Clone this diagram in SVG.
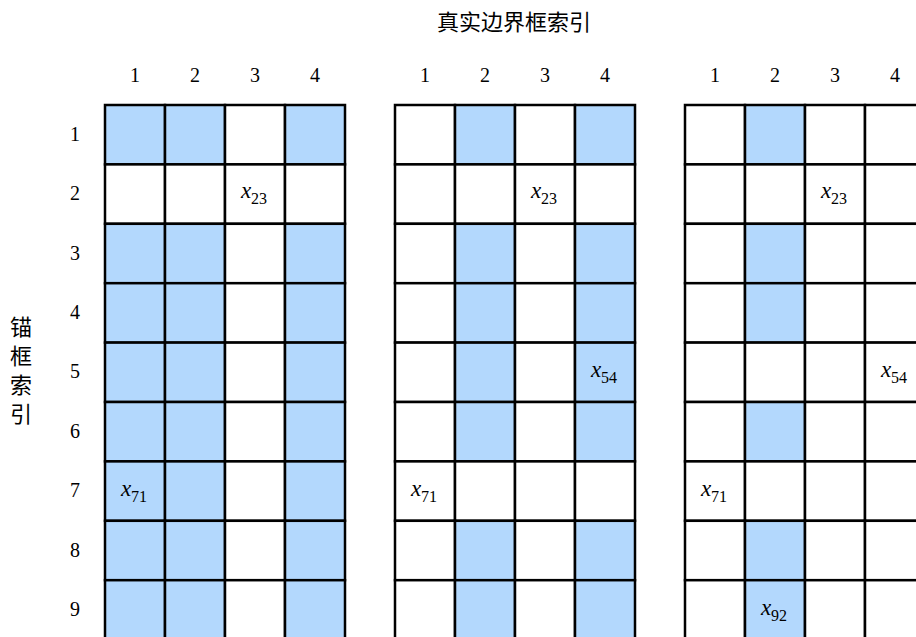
<svg xmlns="http://www.w3.org/2000/svg" width="916" height="637" viewBox="0 0 916 637">
<style>
.c{fill:#fff;stroke:#000;stroke-width:2.5}
.b{fill:#b3d8fd;stroke:#000;stroke-width:2.5}
.n{font-family:"Liberation Serif",serif;font-size:20px;text-anchor:middle;fill:#000}
.cjk{font-family:"Noto Sans CJK SC",sans-serif;font-size:22px;fill:#000}
.v{font-family:"Liberation Serif",serif;font-size:23px;text-anchor:middle;fill:#000}
.s{font-size:16px;font-style:normal}
</style>
<rect width="916" height="637" fill="#fff"/>
<text class="cjk" x="514" y="30" font-size="23" text-anchor="middle">真实边界框索引</text>
<g id="ylabel" class="cjk" text-anchor="middle">
<text x="21" y="335">锚</text>
<text x="21" y="364">框</text>
<text x="21" y="393">索</text>
<text x="21" y="422">引</text>
</g>
<g id="rowlabels" class="n">
<text x="75" y="141">1</text><text x="75" y="200">2</text><text x="75" y="260">3</text><text x="75" y="319">4</text><text x="75" y="378">5</text><text x="75" y="438">6</text><text x="75" y="497">7</text><text x="75" y="557">8</text><text x="75" y="616">9</text>
</g>
<g id="collabels" class="n">
<text x="135" y="82">1</text><text x="195" y="82">2</text><text x="255" y="82">3</text><text x="315" y="82">4</text>
<text x="425" y="82">1</text><text x="485" y="82">2</text><text x="545" y="82">3</text><text x="605" y="82">4</text>
<text x="715" y="82">1</text><text x="775" y="82">2</text><text x="835" y="82">3</text><text x="895" y="82">4</text>
</g>
<g id="matrix1">
<rect class="b" x="105" y="105" width="60" height="59.4"/><rect class="b" x="165" y="105" width="60" height="59.4"/><rect class="c" x="225" y="105" width="60" height="59.4"/><rect class="b" x="285" y="105" width="60" height="59.4"/>
<rect class="c" x="105" y="164.4" width="60" height="59.4"/><rect class="c" x="165" y="164.4" width="60" height="59.4"/><rect class="c" x="225" y="164.4" width="60" height="59.4"/><rect class="c" x="285" y="164.4" width="60" height="59.4"/>
<rect class="b" x="105" y="223.8" width="60" height="59.4"/><rect class="b" x="165" y="223.8" width="60" height="59.4"/><rect class="c" x="225" y="223.8" width="60" height="59.4"/><rect class="b" x="285" y="223.8" width="60" height="59.4"/>
<rect class="b" x="105" y="283.2" width="60" height="59.4"/><rect class="b" x="165" y="283.2" width="60" height="59.4"/><rect class="c" x="225" y="283.2" width="60" height="59.4"/><rect class="b" x="285" y="283.2" width="60" height="59.4"/>
<rect class="b" x="105" y="342.6" width="60" height="59.4"/><rect class="b" x="165" y="342.6" width="60" height="59.4"/><rect class="c" x="225" y="342.6" width="60" height="59.4"/><rect class="b" x="285" y="342.6" width="60" height="59.4"/>
<rect class="b" x="105" y="402" width="60" height="59.4"/><rect class="b" x="165" y="402" width="60" height="59.4"/><rect class="c" x="225" y="402" width="60" height="59.4"/><rect class="b" x="285" y="402" width="60" height="59.4"/>
<rect class="b" x="105" y="461.4" width="60" height="59.4"/><rect class="b" x="165" y="461.4" width="60" height="59.4"/><rect class="c" x="225" y="461.4" width="60" height="59.4"/><rect class="b" x="285" y="461.4" width="60" height="59.4"/>
<rect class="b" x="105" y="520.8" width="60" height="59.4"/><rect class="b" x="165" y="520.8" width="60" height="59.4"/><rect class="c" x="225" y="520.8" width="60" height="59.4"/><rect class="b" x="285" y="520.8" width="60" height="59.4"/>
<rect class="b" x="105" y="580.2" width="60" height="59.4"/><rect class="b" x="165" y="580.2" width="60" height="59.4"/><rect class="c" x="225" y="580.2" width="60" height="59.4"/><rect class="b" x="285" y="580.2" width="60" height="59.4"/>
<text class="v" x="254" y="198"><tspan font-style="italic">x</tspan><tspan class="s" dy="6">23</tspan></text>
<text class="v" x="134" y="496"><tspan font-style="italic">x</tspan><tspan class="s" dy="6">71</tspan></text>
</g>
<g id="matrix2">
<rect class="c" x="395" y="105" width="60" height="59.4"/><rect class="b" x="455" y="105" width="60" height="59.4"/><rect class="c" x="515" y="105" width="60" height="59.4"/><rect class="b" x="575" y="105" width="60" height="59.4"/>
<rect class="c" x="395" y="164.4" width="60" height="59.4"/><rect class="c" x="455" y="164.4" width="60" height="59.4"/><rect class="c" x="515" y="164.4" width="60" height="59.4"/><rect class="c" x="575" y="164.4" width="60" height="59.4"/>
<rect class="c" x="395" y="223.8" width="60" height="59.4"/><rect class="b" x="455" y="223.8" width="60" height="59.4"/><rect class="c" x="515" y="223.8" width="60" height="59.4"/><rect class="b" x="575" y="223.8" width="60" height="59.4"/>
<rect class="c" x="395" y="283.2" width="60" height="59.4"/><rect class="b" x="455" y="283.2" width="60" height="59.4"/><rect class="c" x="515" y="283.2" width="60" height="59.4"/><rect class="b" x="575" y="283.2" width="60" height="59.4"/>
<rect class="c" x="395" y="342.6" width="60" height="59.4"/><rect class="b" x="455" y="342.6" width="60" height="59.4"/><rect class="c" x="515" y="342.6" width="60" height="59.4"/><rect class="b" x="575" y="342.6" width="60" height="59.4"/>
<rect class="c" x="395" y="402" width="60" height="59.4"/><rect class="b" x="455" y="402" width="60" height="59.4"/><rect class="c" x="515" y="402" width="60" height="59.4"/><rect class="b" x="575" y="402" width="60" height="59.4"/>
<rect class="c" x="395" y="461.4" width="60" height="59.4"/><rect class="c" x="455" y="461.4" width="60" height="59.4"/><rect class="c" x="515" y="461.4" width="60" height="59.4"/><rect class="c" x="575" y="461.4" width="60" height="59.4"/>
<rect class="c" x="395" y="520.8" width="60" height="59.4"/><rect class="b" x="455" y="520.8" width="60" height="59.4"/><rect class="c" x="515" y="520.8" width="60" height="59.4"/><rect class="b" x="575" y="520.8" width="60" height="59.4"/>
<rect class="c" x="395" y="580.2" width="60" height="59.4"/><rect class="b" x="455" y="580.2" width="60" height="59.4"/><rect class="c" x="515" y="580.2" width="60" height="59.4"/><rect class="b" x="575" y="580.2" width="60" height="59.4"/>
<text class="v" x="544" y="198"><tspan font-style="italic">x</tspan><tspan class="s" dy="6">23</tspan></text>
<text class="v" x="604" y="377"><tspan font-style="italic">x</tspan><tspan class="s" dy="6">54</tspan></text>
<text class="v" x="424" y="496"><tspan font-style="italic">x</tspan><tspan class="s" dy="6">71</tspan></text>
</g>
<g id="matrix3">
<rect class="c" x="685" y="105" width="60" height="59.4"/><rect class="b" x="745" y="105" width="60" height="59.4"/><rect class="c" x="805" y="105" width="60" height="59.4"/><rect class="c" x="865" y="105" width="60" height="59.4"/>
<rect class="c" x="685" y="164.4" width="60" height="59.4"/><rect class="c" x="745" y="164.4" width="60" height="59.4"/><rect class="c" x="805" y="164.4" width="60" height="59.4"/><rect class="c" x="865" y="164.4" width="60" height="59.4"/>
<rect class="c" x="685" y="223.8" width="60" height="59.4"/><rect class="b" x="745" y="223.8" width="60" height="59.4"/><rect class="c" x="805" y="223.8" width="60" height="59.4"/><rect class="c" x="865" y="223.8" width="60" height="59.4"/>
<rect class="c" x="685" y="283.2" width="60" height="59.4"/><rect class="b" x="745" y="283.2" width="60" height="59.4"/><rect class="c" x="805" y="283.2" width="60" height="59.4"/><rect class="c" x="865" y="283.2" width="60" height="59.4"/>
<rect class="c" x="685" y="342.6" width="60" height="59.4"/><rect class="c" x="745" y="342.6" width="60" height="59.4"/><rect class="c" x="805" y="342.6" width="60" height="59.4"/><rect class="c" x="865" y="342.6" width="60" height="59.4"/>
<rect class="c" x="685" y="402" width="60" height="59.4"/><rect class="b" x="745" y="402" width="60" height="59.4"/><rect class="c" x="805" y="402" width="60" height="59.4"/><rect class="c" x="865" y="402" width="60" height="59.4"/>
<rect class="c" x="685" y="461.4" width="60" height="59.4"/><rect class="c" x="745" y="461.4" width="60" height="59.4"/><rect class="c" x="805" y="461.4" width="60" height="59.4"/><rect class="c" x="865" y="461.4" width="60" height="59.4"/>
<rect class="c" x="685" y="520.8" width="60" height="59.4"/><rect class="b" x="745" y="520.8" width="60" height="59.4"/><rect class="c" x="805" y="520.8" width="60" height="59.4"/><rect class="c" x="865" y="520.8" width="60" height="59.4"/>
<rect class="c" x="685" y="580.2" width="60" height="59.4"/><rect class="b" x="745" y="580.2" width="60" height="59.4"/><rect class="c" x="805" y="580.2" width="60" height="59.4"/><rect class="c" x="865" y="580.2" width="60" height="59.4"/>
<text class="v" x="834" y="198"><tspan font-style="italic">x</tspan><tspan class="s" dy="6">23</tspan></text>
<text class="v" x="894" y="377"><tspan font-style="italic">x</tspan><tspan class="s" dy="6">54</tspan></text>
<text class="v" x="714" y="496"><tspan font-style="italic">x</tspan><tspan class="s" dy="6">71</tspan></text>
<text class="v" x="774" y="615"><tspan font-style="italic">x</tspan><tspan class="s" dy="6">92</tspan></text>
</g>
<g id="connectors"/>
</svg>
